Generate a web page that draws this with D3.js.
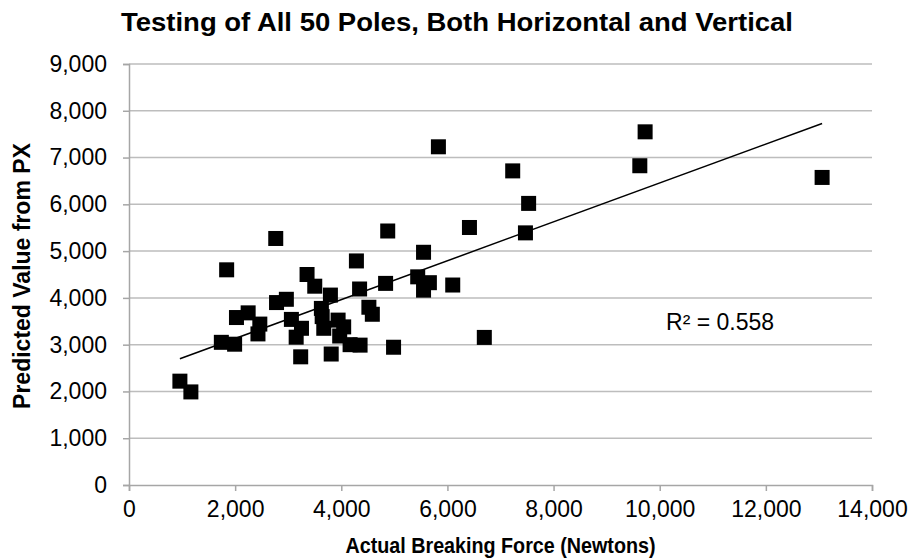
<!DOCTYPE html>
<html>
<head>
<meta charset="utf-8">
<script src="https://cdn.jsdelivr.net/npm/d3@7"></script>
<style>
  body { margin: 0; background: #fff; }
  text { font-family: "Liberation Sans", Arial, sans-serif; fill: #000; }
</style>
</head>
<body>
<div id="chart"></div>
<script>
// data: actual breaking force (N) vs predicted value from PX
var actualForce = [959, 1166, 1740, 1840, 1990, 2025, 2245, 2430, 2465, 2765,
    2780, 2965, 3060, 3150, 3235, 3250, 3355, 3500, 3625, 3640,
    3670, 3795, 3810, 3940, 3970, 4045, 4166, 4285, 4345, 4354,
    4520, 4585, 4835, 4875, 4985, 5440, 5550, 5550, 5660, 5830,
    6100, 6415, 6695, 7230, 7470, 7530, 9625, 9725, 13060];
var predicted = [2220, 1990, 3050, 4600, 3010, 3580, 3680, 3230, 3440, 5270,
    3900, 3970, 3540, 3160, 2740, 3350, 4500, 4250, 3775, 3600,
    3350, 4060, 2800, 3525, 3185, 3380, 3000, 4790, 4190, 2990,
    3800, 3650, 4310, 5430, 2945, 4450, 4975, 4165, 4325, 7230,
    4275, 5505, 3155, 6715, 5390, 6020, 6825, 7550, 6575];
var xTicks = [0, 2000, 4000, 6000, 8000, 10000, 12000, 14000];
var yTicks = [0, 1000, 2000, 3000, 4000, 5000, 6000, 7000, 8000, 9000];
var rSquaredLabel = "R\u00b2 = 0.558";

var width = 914, height = 559;
var margin = {top: 64, right: 42, bottom: 74, left: 129};
var plotW = width - margin.left - margin.right;
var plotH = height - margin.top - margin.bottom;

var svg = d3.select("#chart").append("svg")
    .attr("width", width)
    .attr("height", height);

var g = svg.append("g")
    .attr("transform", "translate(" + margin.left + "," + margin.top + ")");

var x = d3.scaleLinear().domain([0, 14000]).range([0, plotW]);
var y = d3.scaleLinear().domain([0, 9000]).range([plotH, 0]);
var fmt = d3.format(",");

// horizontal gridlines
g.append("g")
    .selectAll("line")
    .data(yTicks.filter(function (d) { return d > 0; }))
    .enter().append("line")
    .attr("x1", 0).attr("x2", plotW)
    .attr("y1", function (d) { return y(d); })
    .attr("y2", function (d) { return y(d); })
    .attr("stroke", "#bdbdbd")
    .attr("stroke-width", 1.5);

// axes
var yAxis = g.append("g")
    .call(d3.axisLeft(y).tickValues(yTicks).tickFormat(fmt).tickSize(6).tickPadding(16));
var xAxis = g.append("g")
    .attr("transform", "translate(0," + plotH + ")")
    .call(d3.axisBottom(x).tickValues(xTicks).tickFormat(fmt).tickSize(6).tickPadding(10));

[xAxis, yAxis].forEach(function (ax) {
    ax.select(".domain").attr("stroke", "#a6a6a6").attr("stroke-width", 1.5);
    ax.selectAll(".tick line").attr("stroke", "#a6a6a6").attr("stroke-width", 1.5);
    ax.selectAll(".tick text")
        .style("font-size", "23px")
        .style("font-family", "'Liberation Sans', Arial, sans-serif")
        .attr("fill", "#000");
});

// linear trend line (least squares) between the smallest and largest x
var n = actualForce.length;
var mx = d3.mean(actualForce), my = d3.mean(predicted);
var sxy = 0, sxx = 0;
for (var i = 0; i < n; i++) {
    sxy += (actualForce[i] - mx) * (predicted[i] - my);
    sxx += (actualForce[i] - mx) * (actualForce[i] - mx);
}
var slope = sxy / sxx;
var intercept = my - slope * mx;
var xMin = d3.min(actualForce), xMax = d3.max(actualForce);

g.append("line")
    .attr("x1", x(xMin)).attr("y1", y(intercept + slope * xMin))
    .attr("x2", x(xMax)).attr("y2", y(intercept + slope * xMax))
    .attr("stroke", "#000")
    .attr("stroke-width", 1.5);

// square markers
var size = 15;
g.append("g")
    .selectAll("rect")
    .data(d3.range(n))
    .enter().append("rect")
    .attr("x", function (i) { return x(actualForce[i]) - size / 2; })
    .attr("y", function (i) { return y(predicted[i]) - size / 2; })
    .attr("width", size)
    .attr("height", size)
    .attr("fill", "#000");

// R squared label
g.append("text")
    .attr("x", x(10120))
    .attr("y", y(3310))
    .style("font-size", "23px")
    .text(rSquaredLabel);

// titles
svg.append("text")
    .attr("x", 457)
    .attr("y", 31)
    .attr("text-anchor", "middle")
    .attr("textLength", 672)
    .attr("lengthAdjust", "spacingAndGlyphs")
    .style("font-size", "25px")
    .style("font-weight", "bold")
    .text("Testing of All 50 Poles, Both Horizontal and Vertical");

svg.append("text")
    .attr("x", margin.left + plotW / 2)
    .attr("y", 553)
    .attr("text-anchor", "middle")
    .attr("textLength", 310)
    .attr("lengthAdjust", "spacingAndGlyphs")
    .style("font-size", "22px")
    .style("font-weight", "bold")
    .text("Actual Breaking Force (Newtons)");

svg.append("text")
    .attr("transform", "translate(30,276) rotate(-90)")
    .attr("text-anchor", "middle")
    .style("font-size", "23px")
    .style("font-weight", "bold")
    .text("Predicted Value from PX");
</script>
</body>
</html>
